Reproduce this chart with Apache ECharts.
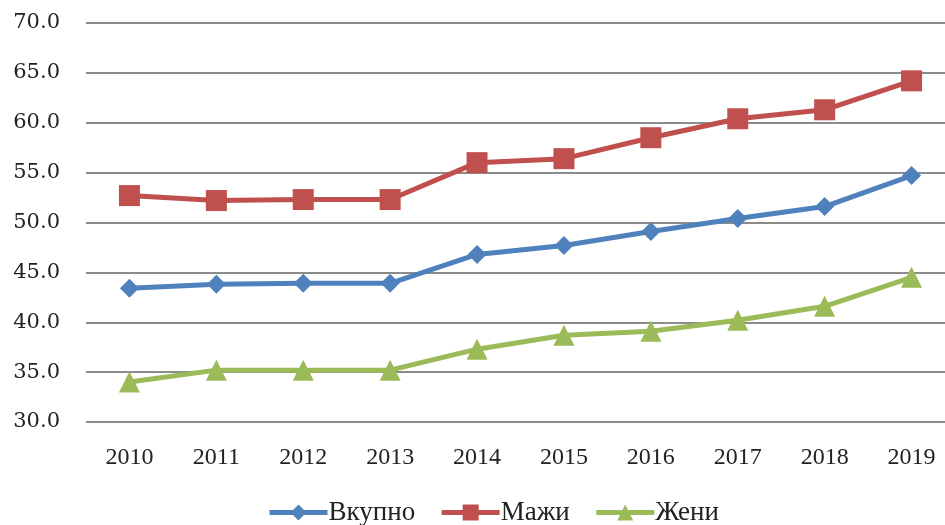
<!DOCTYPE html>
<html>
<head>
<meta charset="UTF-8">
<script src="https://cdn.jsdelivr.net/npm/echarts@6/dist/echarts.min.js"></script>
<style>
  html, body { margin: 0; padding: 0; background: #fff; overflow: hidden; }
  #main { width: 955px; height: 525px; }
</style>
</head>
<body>
<div id="main"></div>
<script>
  // години и вредности
  var years = ['2010', '2011', '2012', '2013', '2014', '2015', '2016', '2017', '2018', '2019'];
  var vkupno = [43.4, 43.8, 43.9, 43.9, 46.8, 47.7, 49.1, 50.4, 51.6, 54.7];
  var mazhi = [52.7, 52.2, 52.3, 52.3, 56.0, 56.4, 58.5, 60.4, 61.3, 64.2];
  var zheni = [34.0, 35.2, 35.2, 35.2, 37.3, 38.7, 39.1, 40.2, 41.6, 44.5];

  var chart = echarts.init(document.getElementById('main'));

  function line(name, data, color, symbol, size) {
    return {
      name: name,
      type: 'line',
      data: data,
      symbol: symbol,
      symbolSize: size,
      showSymbol: true,
      lineStyle: { color: color, width: 5 },
      itemStyle: { color: color },
      emphasis: { disabled: true }
    };
  }

  chart.setOption({
    animation: false,
    grid: { left: 86, right: 0, top: 23, bottom: 103 },
    legend: {
      top: 494,
      left: 262,
      itemWidth: 58,
      itemHeight: 20,
      itemGap: 24,
      lineStyle: { width: 5 },
      textStyle: { fontFamily: 'Liberation Serif', fontSize: 27, color: '#222', padding: [0, 0, 0, -4] },
      data: ['Вкупно', 'Мажи', 'Жени']
    },
    xAxis: {
      type: 'category',
      data: years,
      boundaryGap: true,
      axisLine: { show: false },
      axisTick: { show: false },
      axisLabel: { fontFamily: 'Liberation Serif', fontSize: 24, color: '#222', margin: 24 }
    },
    yAxis: {
      type: 'value',
      min: 30,
      max: 70,
      interval: 5,
      axisLine: { show: false },
      axisTick: { show: false },
      splitLine: { lineStyle: { color: '#8c8c8c', width: 2 } },
      axisLabel: {
        fontFamily: 'DejaVu Serif',
        fontSize: 21,
        color: '#222',
        margin: 26,
        formatter: function (v) { return v.toFixed(1); }
      }
    },
    series: [
      line('Вкупно', vkupno, '#4f81bd', 'diamond', 19),
      line('Мажи', mazhi, '#c0504d', 'rect', 21),
      line('Жени', zheni, '#9bbb59', 'triangle', 21)
    ]
  });
</script>
</body>
</html>
